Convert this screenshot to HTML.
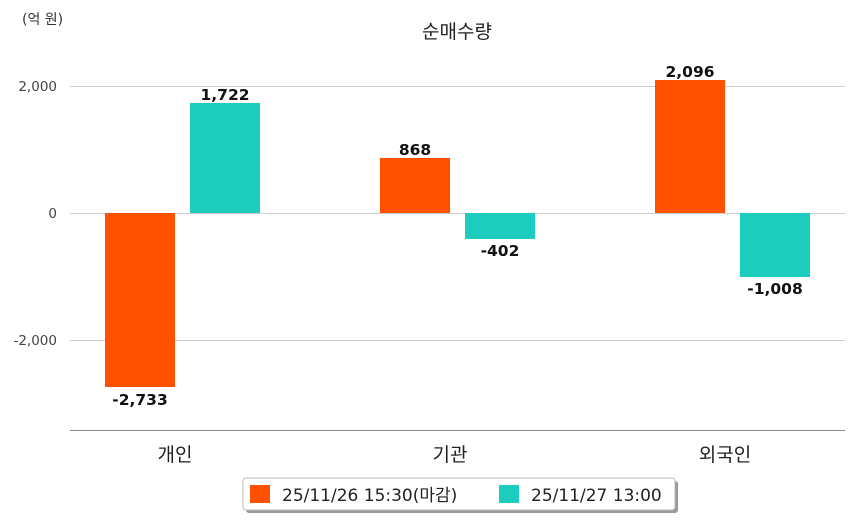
<!DOCTYPE html>
<html><head><meta charset="utf-8"><style>
body{margin:0;background:#fff;width:854px;height:520px;overflow:hidden}
text{font-family:"DejaVu Sans","Noto Sans CJK KR",sans-serif}
</style></head><body>
<svg width="854" height="520" viewBox="0 0 854 520">
<text x="22" y="24" font-size="14" fill="#333">(억 원)</text>
<text x="457" y="38" font-size="19" fill="#222" text-anchor="middle">순매수량</text>
<g stroke="#ccc" stroke-width="1">
<line x1="70" y1="86.5" x2="845" y2="86.5"/>
<line x1="70" y1="213.5" x2="845" y2="213.5"/>
<line x1="70" y1="340.5" x2="845" y2="340.5"/>
</g>
<line x1="70" y1="430.5" x2="845" y2="430.5" stroke="#888"/>
<g font-size="13.5" fill="#444" text-anchor="end">
<text x="57" y="91">2,000</text>
<text x="57" y="218">0</text>
<text x="57" y="345">-2,000</text>
</g>
<g fill="#ff5100">
<rect x="105" y="213" width="70" height="174"/>
<rect x="380" y="158" width="70" height="55"/>
<rect x="655" y="80" width="70" height="133"/>
</g>
<g fill="#1ccdbd">
<rect x="190" y="103" width="70" height="110"/>
<rect x="465" y="213" width="70" height="26"/>
<rect x="740" y="213" width="70" height="64"/>
</g>
<g font-size="15.5" fill="#111" text-anchor="middle" font-weight="bold">
<text x="140" y="405">-2,733</text>
<text x="225" y="100">1,722</text>
<text x="415" y="155">868</text>
<text x="500" y="256">-402</text>
<text x="690" y="77">2,096</text>
<text x="775" y="294">-1,008</text>
</g>
<g font-size="19" fill="#222" text-anchor="middle">
<text x="175" y="461">개인</text>
<text x="450" y="461">기관</text>
<text x="725" y="461">외국인</text>
</g>
<rect x="246" y="481" width="432" height="32" rx="3" fill="#999"/>
<rect x="243" y="478" width="432" height="32" rx="3" fill="#fff" stroke="#bbb"/>
<rect x="250" y="485" width="20" height="18" fill="#ff5100"/>
<text x="282" y="501" font-size="17" fill="#222">25/11/26 15:30(마감)</text>
<rect x="499" y="485" width="20" height="18" fill="#1ccdbd"/>
<text x="531" y="501" font-size="17" fill="#222">25/11/27 13:00</text>
</svg>
</body></html>
